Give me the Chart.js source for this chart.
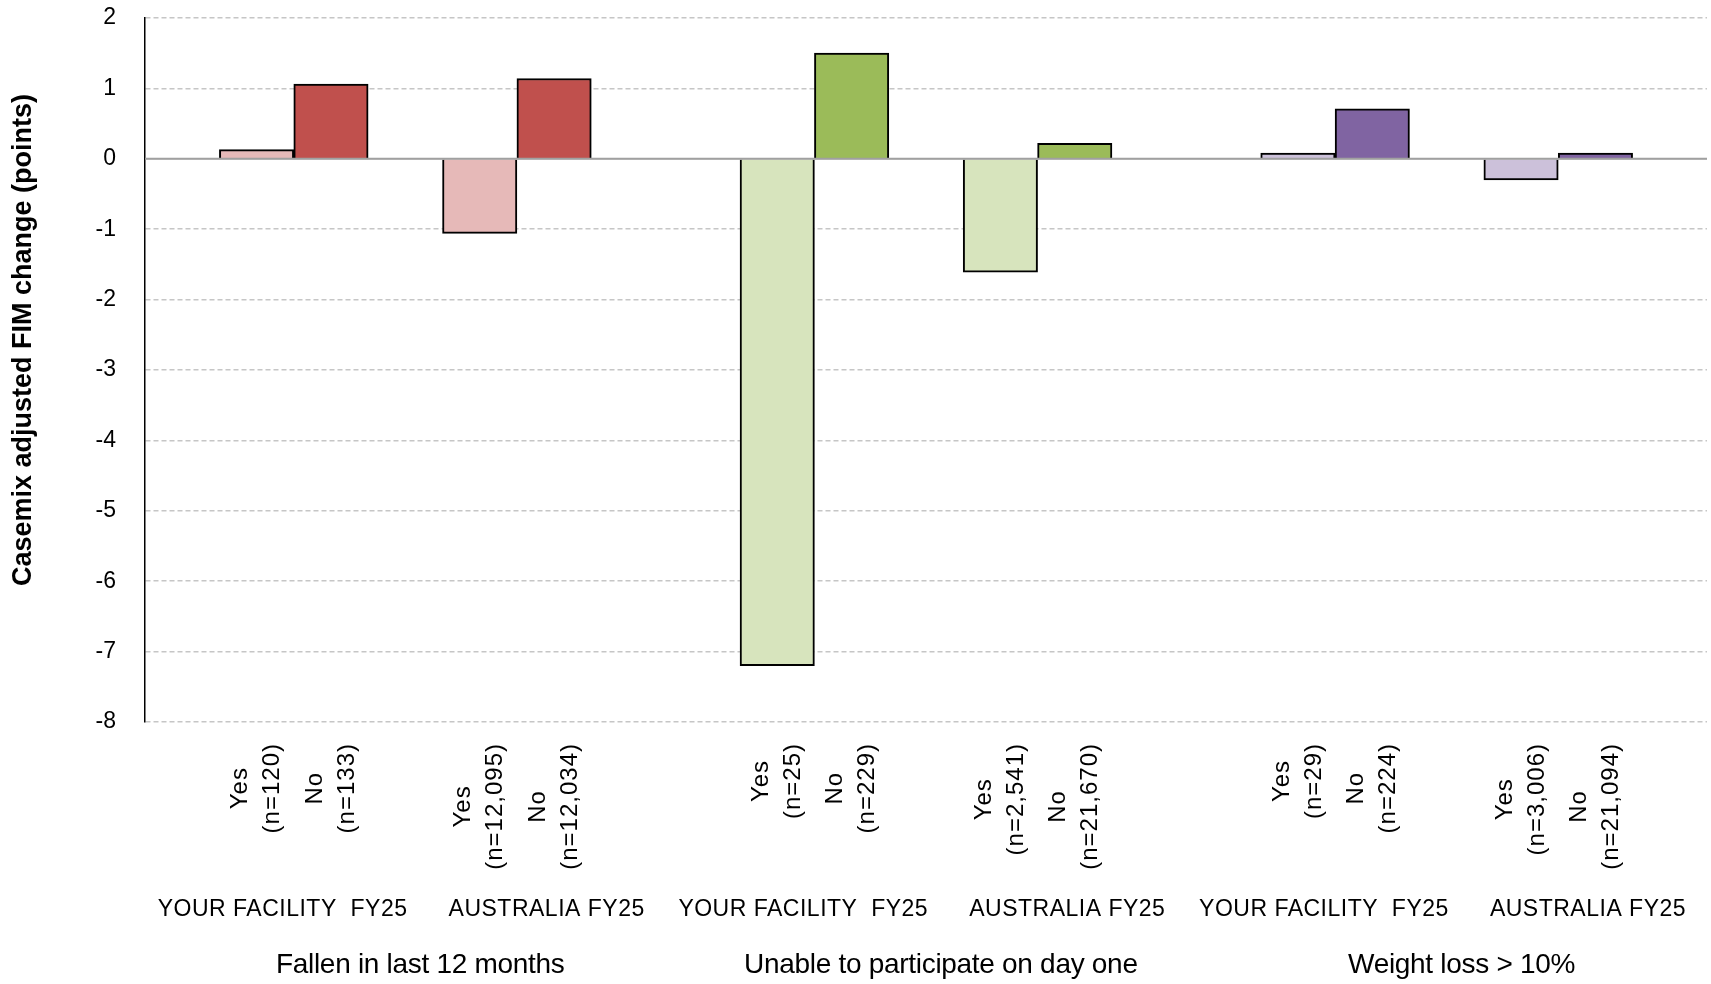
<!DOCTYPE html>
<html>
<head>
<meta charset="utf-8">
<script src="https://cdn.jsdelivr.net/npm/chart.js@4.4.1/dist/chart.umd.min.js"></script>
<style>
  html, body { margin: 0; padding: 0; background: #fff; }
  #wrap { width: 1711px; height: 984px; }
</style>
</head>
<body>
<div id="wrap"><canvas id="chart"></canvas></div>
<script>
// groups along the x axis, each split into facility / national
const groups = ['Fallen in last 12 months', 'Unable to participate on day one', 'Weight loss > 10%'];
const subgroups = ['YOUR FACILITY  FY25', 'AUSTRALIA FY25'];

// one entry per subgroup: F1, A1, F2, A2, F3, A3
const yesValues = [0.13, -1.06, -7.2, -1.61, 0.08, -0.30];
const noValues = [1.06, 1.14, 1.50, 0.22, 0.71, 0.08];
const yesCounts = ['120', '12,095', '25', '2,541', '29', '3,006'];
const noCounts = ['133', '12,034', '229', '21,670', '224', '21,094'];

const yTicks = [2, 1, 0, -1, -2, -3, -4, -5, -6, -7, -8];

const darkColors = ['#C0504D', '#9BBB59', '#8064A2'];
const lightColors = ['#E6B9B8', '#D7E4BD', '#CCC1DA'];

const FONT = "'Liberation Sans', Arial, sans-serif";

// slot layout per group: blank, Y, N, blank, Y, N, blank
const SLOTS_PER_GROUP = 7;
const nSlots = SLOTS_PER_GROUP * groups.length;
const slotLabels = Array.from({ length: nSlots }, (_, i) => 's' + i);
const yesData = Array(nSlots).fill(null);
const noData = Array(nSlots).fill(null);
const yesBg = Array(nSlots).fill('transparent');
const noBg = Array(nSlots).fill('transparent');
const barSlots = [];

yesValues.forEach((v, k) => {
  const g = Math.floor(k / 2), j = k % 2;
  const ys = 1 + g * SLOTS_PER_GROUP + j * 3;
  yesData[ys] = v;
  noData[ys + 1] = noValues[k];
  yesBg[ys] = lightColors[g];
  noBg[ys + 1] = darkColors[g];
  barSlots.push({ slot: ys, text: 'Yes', n: yesCounts[k] });
  barSlots.push({ slot: ys + 1, text: 'No', n: noCounts[k] });
});

const labelsPlugin = {
  id: 'labels',
  afterDatasetsDraw(chart) {
    const { ctx, chartArea } = chart;
    const y0 = chart.scales.y.getPixelForValue(0);
    ctx.save();
    ctx.strokeStyle = '#A0A0A0';
    ctx.lineWidth = 2;
    ctx.beginPath();
    ctx.moveTo(chartArea.left, y0);
    ctx.lineTo(chartArea.right, y0);
    ctx.stroke();
    ctx.restore();
  },
  afterDraw(chart) {
    const { ctx, chartArea } = chart;
    const x = chart.scales.x;
    ctx.save();
    ctx.fillStyle = '#000';
    ctx.textAlign = 'center';
    ctx.textBaseline = 'middle';

    // per-bar rotated labels
    ctx.font = '24px ' + FONT;
    ctx.letterSpacing = '1px';
    barSlots.forEach(b => {
      const l1 = b.text, l2 = '(n=' + b.n + ')';
      const w = Math.max(ctx.measureText(l1).width, ctx.measureText(l2).width);
      const cx = x.getPixelForValue(b.slot);
      const cy = chartArea.bottom + 21 + w / 2;
      ctx.save();
      ctx.translate(cx, cy);
      ctx.rotate(-Math.PI / 2);
      ctx.fillText(l1, 0, -16);
      ctx.fillText(l2, 0, 16);
      ctx.restore();
    });

    // subgroup and group labels
    groups.forEach((name, g) => {
      const base = g * SLOTS_PER_GROUP;
      ctx.font = '23px ' + FONT;
      ctx.letterSpacing = '0.5px';
      ctx.fillText(subgroups[0], x.getPixelForValue(base + 1.35), chartArea.bottom + 188);
      ctx.fillText(subgroups[1], x.getPixelForValue(base + 4.9), chartArea.bottom + 188);
      ctx.font = '28px ' + FONT;
      ctx.letterSpacing = '-0.3px';
      ctx.fillText(name, x.getPixelForValue(base + 3.2), chartArea.bottom + 243);
    });

    // y axis title
    ctx.font = 'bold 27px ' + FONT;
    ctx.letterSpacing = '0px';
    ctx.translate(24, (chartArea.top + chartArea.bottom) / 2 - 30);
    ctx.rotate(-Math.PI / 2);
    ctx.fillText('Casemix adjusted FIM change (points)', 0, 0);
    ctx.restore();
  }
};

new Chart(document.getElementById('chart').getContext('2d'), {
  type: 'bar',
  data: {
    labels: slotLabels,
    datasets: [
      { label: 'Yes', data: yesData, backgroundColor: yesBg },
      { label: 'No', data: noData, backgroundColor: noBg }
    ]
  },
  options: {
    responsive: true,
    maintainAspectRatio: false,
    animation: false,
    layout: { padding: { top: 18, right: 4, left: 0, bottom: 0 } },
    datasets: {
      bar: {
        grouped: false,
        categoryPercentage: 1,
        barPercentage: 1,
        borderColor: '#000',
        borderWidth: 2,
        borderSkipped: 'start'
      }
    },
    plugins: {
      legend: { display: false },
      tooltip: { enabled: false }
    },
    scales: {
      x: {
        type: 'category',
        ticks: { display: false },
        grid: { display: false },
        border: { display: false },
        afterFit(scale) {
          scale.height = 262;
          scale.paddingLeft = scale.paddingRight = 0;
        }
      },
      y: {
        min: -8,
        max: 2,
        afterBuildTicks(scale) { scale.ticks = yTicks.map(v => ({ value: v })); },
        afterFit(scale) {
          scale.width = 145;
          scale.paddingTop = scale.paddingBottom = 0;
        },
        ticks: {
          color: '#000',
          padding: 29,
          font: { family: FONT, size: 23 }
        },
        grid: {
          drawTicks: false,
          color: '#C6C6C6',
          lineWidth: 1.5
        },
        border: {
          display: true,
          color: '#000',
          width: 1.5,
          dash: ctx => (ctx.tick && ctx.tick.value === 0) ? [] : [5, 3]
        }
      }
    }
  },
  plugins: [labelsPlugin]
});
</script>
</body>
</html>
